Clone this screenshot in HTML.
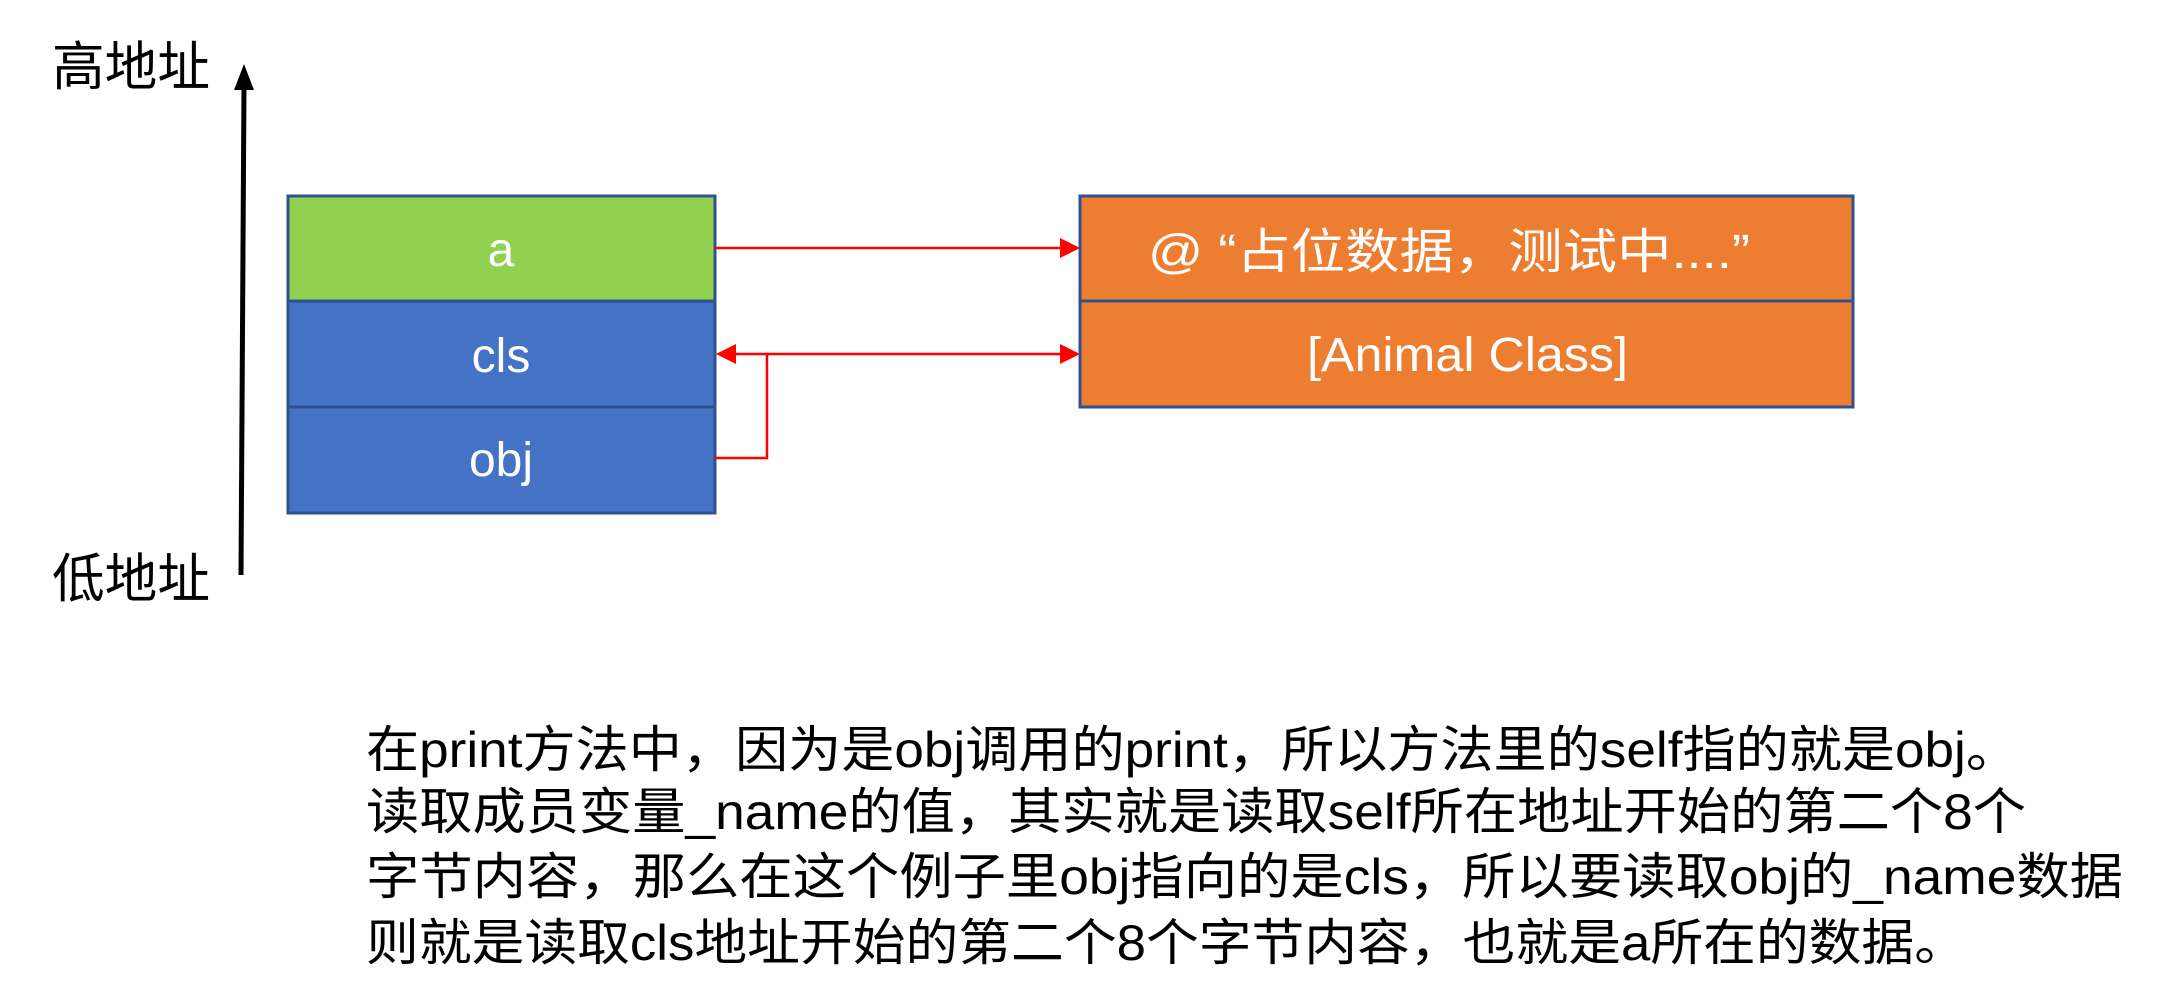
<!DOCTYPE html>
<html><head><meta charset="utf-8"><style>
html,body{margin:0;padding:0;background:#fff;width:2168px;height:1002px;overflow:hidden}
text{font-family:"Liberation Sans","Noto Sans CJK SC",sans-serif}
</style></head><body>
<svg width="2168" height="1002" viewBox="0 0 2168 1002" xmlns="http://www.w3.org/2000/svg">
<text x="52" y="85" font-size="53" fill="#000" textLength="158" lengthAdjust="spacingAndGlyphs">高地址</text>
<text x="52" y="597" font-size="53" fill="#000" textLength="158" lengthAdjust="spacingAndGlyphs">低地址</text>
<line x1="241" y1="575" x2="244" y2="85" stroke="#000" stroke-width="5"/>
<path d="M234,90 L244,64 L254,90 z" fill="#000"/>
<rect x="288" y="196" width="427" height="105" fill="#92D050" stroke="#2F528F" stroke-width="3"/>
<rect x="288" y="301" width="427" height="106" fill="#4472C4" stroke="#2F528F" stroke-width="3"/>
<rect x="288" y="407" width="427" height="106" fill="#4472C4" stroke="#2F528F" stroke-width="3"/>
<text x="501" y="266" font-size="48" fill="#fff" text-anchor="middle">a</text>
<text x="501" y="372" font-size="48" fill="#fff" text-anchor="middle">cls</text>
<text x="501" y="476" font-size="48" fill="#fff" text-anchor="middle">obj</text>
<rect x="1080" y="196" width="773" height="105" fill="#ED7D31" stroke="#2F528F" stroke-width="3"/>
<rect x="1080" y="301" width="773" height="106" fill="#ED7D31" stroke="#2F528F" stroke-width="3"/>
<text x="1148" y="268" font-size="48" fill="#fff" textLength="602" lengthAdjust="spacingAndGlyphs">@ “占位数据，测试中....”</text>
<text x="1307" y="371" font-size="48" fill="#fff" textLength="321" lengthAdjust="spacingAndGlyphs">[Animal Class]</text>
<line x1="715" y1="248" x2="1064" y2="248" stroke="#f00" stroke-width="2.5"/>
<path d="M1060,238 L1080,248 L1060,258 z" fill="#f00"/>
<line x1="732" y1="354" x2="1064" y2="354" stroke="#f00" stroke-width="2.5"/>
<path d="M1060,344 L1080,354 L1060,364 z" fill="#f00"/>
<path d="M736,344 L716,354 L736,364 z" fill="#f00"/>
<polyline points="715,458 767,458 767,354" fill="none" stroke="#f00" stroke-width="2.5"/>
<g font-size="50" fill="#000">
<text x="366" y="767" textLength="1653" lengthAdjust="spacingAndGlyphs">在print方法中，因为是obj调用的print，所以方法里的self指的就是obj。</text>
<text x="366" y="829" textLength="1660" lengthAdjust="spacingAndGlyphs">读取成员变量_name的值，其实就是读取self所在地址开始的第二个8个</text>
<text x="366" y="894" textLength="1757" lengthAdjust="spacingAndGlyphs">字节内容，那么在这个例子里obj指向的是cls，所以要读取obj的_name数据</text>
<text x="366" y="960" textLength="1601" lengthAdjust="spacingAndGlyphs">则就是读取cls地址开始的第二个8个字节内容，也就是a所在的数据。</text>
</g>
</svg>
</body></html>
